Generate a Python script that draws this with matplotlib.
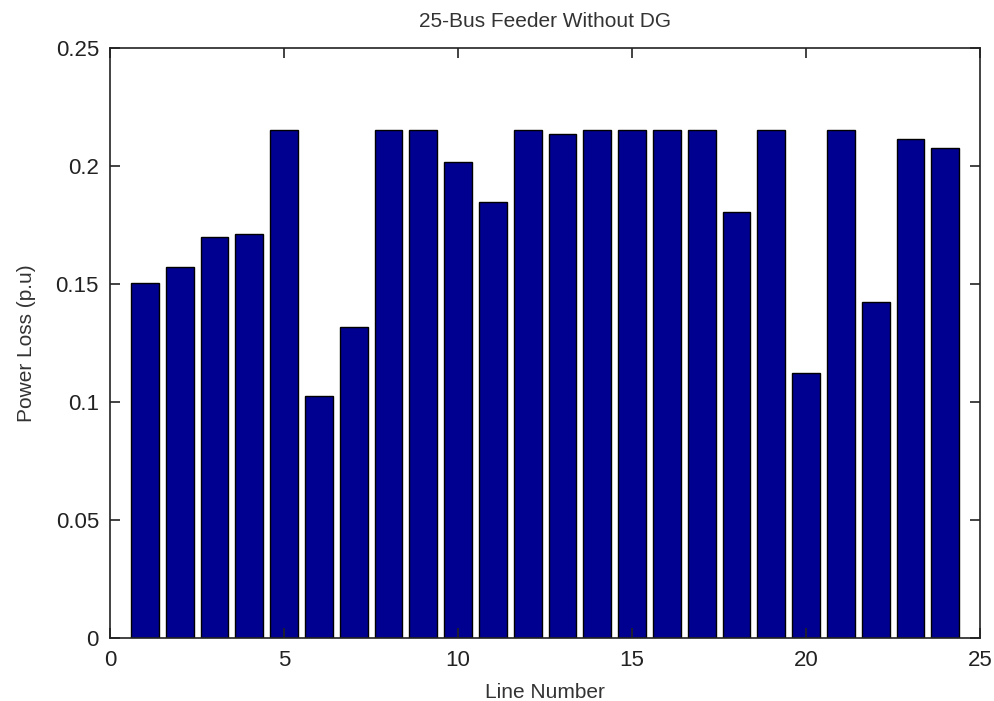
import numpy as np
import matplotlib
matplotlib.use("Agg")
import matplotlib.pyplot as plt

plt.rcParams['font.family'] = ['Liberation Sans', 'DejaVu Sans']

# line numbers and power loss per line (p.u)
line_no = np.arange(1, 25)
power_loss = [0.1505, 0.157, 0.170, 0.171, 0.2152, 0.1025, 0.1318, 0.2152,
              0.2152, 0.2018, 0.1848, 0.2152, 0.2136, 0.2152, 0.2152, 0.2152,
              0.2152, 0.1805, 0.2152, 0.1123, 0.2152, 0.1425, 0.2115, 0.2077]

x_ticks = [0, 5, 10, 15, 20, 25]
y_ticks = [0, 0.05, 0.1, 0.15, 0.2, 0.25]
y_tick_labels = ['0', '0.05', '0.1', '0.15', '0.2', '0.25']

fig = plt.figure(figsize=(9.95, 7.01), dpi=100)
ax = fig.add_axes([0.1106, 0.0899, 0.8744, 0.8417])

ax.bar(line_no, power_loss, width=0.8, color='#000090', edgecolor='black', linewidth=1)

ax.set_xlim(0, 25)
ax.set_ylim(0, 0.25)
ax.set_xticks(x_ticks)
ax.set_yticks(y_ticks)
ax.set_yticklabels(y_tick_labels)
ax.tick_params(direction='in', top=True, right=True, length=7, width=1.2,
               labelsize=16, colors='#222222')
ax.tick_params(axis='y', pad=8)
ax.tick_params(axis='x', pad=9)
for s in ax.spines.values():
    s.set_linewidth(1.2)
    s.set_color('#222222')

ax.set_title('25-Bus Feeder Without DG', fontsize=15, color='#333333', pad=15)
ax.set_xlabel('Line Number', fontsize=15, color='#333333', labelpad=8)
ax.set_ylabel('Power Loss (p.u)', fontsize=15, color='#333333', labelpad=14)

fig.savefig('out.png', dpi=100)
